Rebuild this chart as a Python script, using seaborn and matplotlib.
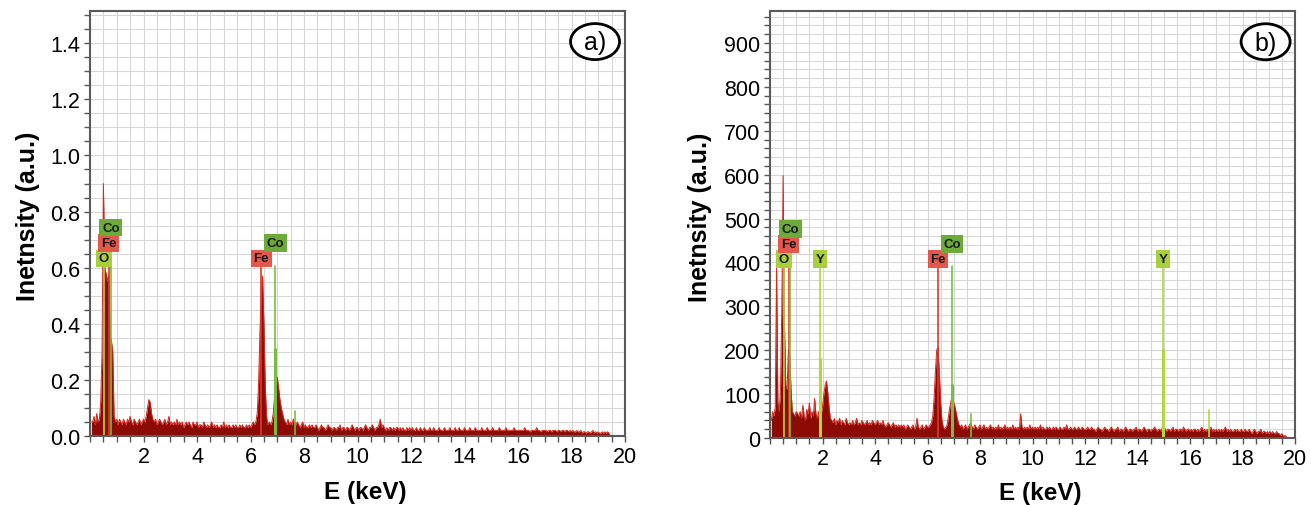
import numpy as np
import seaborn as sns
import matplotlib.pyplot as plt
from matplotlib.ticker import MultipleLocator, FixedLocator
from matplotlib.patches import Ellipse

# EDS spectrum (a), one value every 0.05 keV starting at 0.05 keV
counts_a = [
    0.05, 0.05, 0.07, 0.04, 0.08, 0.05, 0.06, 0.12, 0.30, 0.90, 0.60, 0.58, 0.55, 0.58, 0.36, 0.34, 0.30, 0.07, 0.05, 0.06, 0.04,
    0.06, 0.05, 0.04, 0.06, 0.05, 0.04, 0.06, 0.05, 0.07, 0.05, 0.04, 0.06, 0.05, 0.04, 0.05, 0.06, 0.04, 0.05, 0.06, 0.05, 0.07,
    0.10, 0.13, 0.12, 0.08, 0.06, 0.05, 0.06, 0.04, 0.05, 0.06, 0.05, 0.04, 0.05, 0.06, 0.04, 0.05, 0.07, 0.04, 0.05, 0.04,
    0.05, 0.04, 0.06, 0.04, 0.05, 0.04, 0.05, 0.03, 0.04, 0.05, 0.04, 0.05, 0.04, 0.03, 0.05, 0.04, 0.04, 0.05, 0.03, 0.04,
    0.04, 0.03, 0.05, 0.04, 0.03, 0.04, 0.03, 0.04, 0.05, 0.03, 0.04, 0.03, 0.04, 0.03, 0.03, 0.04, 0.03, 0.05, 0.03, 0.04,
    0.03, 0.04, 0.03, 0.03, 0.04, 0.03, 0.04, 0.03, 0.03, 0.04, 0.03, 0.04, 0.03, 0.03, 0.04, 0.03, 0.04, 0.03, 0.04, 0.05,
    0.04, 0.05, 0.08, 0.18, 0.36, 0.52, 0.57, 0.40, 0.18, 0.07, 0.04, 0.05, 0.04, 0.05, 0.08, 0.14, 0.20, 0.21, 0.17, 0.13,
    0.10, 0.08, 0.06, 0.05, 0.04, 0.06, 0.04, 0.05, 0.04, 0.06, 0.05, 0.04, 0.05, 0.04, 0.03, 0.04, 0.05, 0.03, 0.04, 0.03,
    0.03, 0.04, 0.03, 0.04, 0.03, 0.03, 0.04, 0.03, 0.02, 0.03, 0.04, 0.03, 0.03, 0.02, 0.03, 0.04, 0.03, 0.03, 0.02, 0.03,
    0.03, 0.02, 0.03, 0.03, 0.04, 0.02, 0.03, 0.03, 0.02, 0.03, 0.03, 0.02, 0.03, 0.04, 0.03, 0.02, 0.03, 0.03, 0.02, 0.03,
    0.03, 0.02, 0.03, 0.04, 0.03, 0.02, 0.03, 0.03, 0.04, 0.03, 0.02, 0.03, 0.03, 0.04, 0.06, 0.03, 0.04, 0.03, 0.02, 0.03,
    0.02, 0.03, 0.03, 0.02, 0.03, 0.02, 0.03, 0.03, 0.02, 0.03, 0.02, 0.03, 0.02, 0.02, 0.03, 0.02, 0.03, 0.02, 0.03, 0.02,
    0.02, 0.03, 0.02, 0.02, 0.03, 0.02, 0.02, 0.03, 0.02, 0.02, 0.02, 0.03, 0.02, 0.02, 0.03, 0.02, 0.02, 0.02, 0.03, 0.02,
    0.02, 0.02, 0.03, 0.02, 0.02, 0.02, 0.03, 0.02, 0.02, 0.02, 0.03, 0.02, 0.02, 0.03, 0.02, 0.02, 0.02, 0.03, 0.02, 0.02,
    0.02, 0.03, 0.02, 0.02, 0.02, 0.03, 0.02, 0.02, 0.02, 0.02, 0.03, 0.02, 0.02, 0.02, 0.03, 0.02, 0.02, 0.02, 0.03, 0.02,
    0.02, 0.02, 0.02, 0.03, 0.02, 0.02, 0.02, 0.02, 0.03, 0.02, 0.02, 0.02, 0.02, 0.02, 0.03, 0.02, 0.02, 0.02, 0.02, 0.02,
    0.02, 0.02, 0.03, 0.02, 0.02, 0.02, 0.015, 0.02, 0.02, 0.02, 0.02, 0.03, 0.02, 0.02, 0.015, 0.02, 0.02, 0.02, 0.02, 0.015,
    0.02, 0.02, 0.015, 0.02, 0.02, 0.02, 0.015, 0.02, 0.02, 0.015, 0.02, 0.02, 0.015, 0.02, 0.02, 0.015, 0.02, 0.015, 0.02, 0.015,
    0.015, 0.02, 0.015, 0.015, 0.02, 0.01, 0.015, 0.015, 0.01, 0.015, 0.015, 0.01, 0.015, 0.02, 0.01, 0.015, 0.01, 0.015, 0.01, 0.01,
    0.015, 0.01, 0.015, 0.01, 0.015, 0.01, 0.0,
]

# EDS spectrum (b), counts every 0.05 keV starting at 0.05 keV
counts_b = [
    40, 60, 50, 70, 390, 80, 60, 110, 300, 598, 260, 120, 110, 200, 190, 110, 60, 55, 50, 60,
    55, 50, 60, 45, 75, 50, 40, 65, 55, 80, 45, 60, 50, 90, 55, 45, 60, 40, 55, 70,
    100, 120, 130, 105, 70, 45, 40, 35, 45, 30, 40, 35, 45, 30, 40, 35, 30, 45, 35, 30,
    35, 30, 40, 30, 35, 45, 30, 35, 30, 40, 35, 30, 35, 40, 30, 35, 30, 40, 35, 30,
    35, 40, 30, 35, 30, 40, 30, 25, 30, 35, 30, 25, 30, 35, 25, 30, 25, 30, 25, 30,
    25, 30, 20, 25, 30, 25, 20, 25, 30, 20, 25, 45, 25, 20, 25, 30, 20, 25, 30, 25,
    25, 30, 35, 50, 90, 150, 200, 208, 150, 80, 40, 25, 20, 25, 30, 50, 70, 85, 100, 80,
    70, 55, 40, 30, 25, 30, 20, 25, 30, 20, 25, 30, 35, 25, 20, 30, 25, 20, 25, 30,
    20, 25, 30, 20, 25, 20, 25, 30, 20, 25, 20, 25, 20, 30, 20, 25, 20, 25, 30, 20,
    25, 20, 25, 20, 30, 20, 25, 20, 25, 20, 55, 25, 20, 25, 20, 25, 20, 30, 20, 25,
    20, 25, 20, 25, 20, 30, 20, 25, 20, 20, 25, 20, 25, 20, 20, 25, 20, 25, 20, 20,
    25, 20, 20, 25, 20, 30, 20, 20, 25, 20, 20, 25, 20, 20, 25, 20, 20, 25, 20, 20,
    20, 25, 20, 20, 25, 20, 20, 15, 20, 25, 20, 20, 15, 20, 25, 20, 20, 15, 20, 25,
    20, 15, 20, 20, 25, 15, 20, 20, 15, 20, 25, 20, 15, 20, 20, 15, 20, 20, 25, 15,
    20, 20, 15, 20, 25, 20, 15, 20, 20, 15, 20, 20, 25, 20, 15, 20, 20, 15, 25, 30,
    20, 15, 20, 20, 15, 20, 25, 15, 20, 20, 15, 20, 20, 15, 25, 20, 15, 20, 20, 15,
    20, 15, 20, 20, 15, 20, 15, 20, 25, 15, 20, 15, 20, 15, 20, 25, 15, 20, 15, 20,
    15, 20, 15, 20, 15, 20, 25, 15, 20, 15, 20, 15, 15, 20, 15, 20, 15, 15, 20, 15,
    15, 20, 15, 15, 20, 15, 10, 15, 20, 15, 10, 15, 15, 20, 10, 15, 15, 10, 15, 10,
    15, 10, 15, 10, 10, 15, 10, 10, 5, 10, 5, 5, 5, 0, 0, 0,
]

# element markers: label, energy (keV), stacking level of the tag
elements_a = ["O", "Fe", "Co", "Fe", "Co"]
energies_a = [0.525, 0.705, 0.776, 6.40, 6.93]
levels_a = [0, 1, 2, 0, 1]
elements_b = ["O", "Fe", "Co", "Y", "Fe", "Co", "Y"]
energies_b = [0.525, 0.705, 0.776, 1.92, 6.40, 6.93, 14.96]
levels_b = [0, 1, 2, 0, 0, 1, 0]

# short marker lines without tag (energy, height, element)
minor_a = [(7.65, 0.09, "Co")]
minor_b = [(7.65, 55, "Co"), (16.74, 63, "Y")]
# thicker lower part of some marker lines
thick_a = [(6.93, 0.31, "Co")]
thick_b = [(1.92, 180, "Y"), (6.93, 120, "Co"), (14.96, 200, "Y")]

box_colors = {"Co": "#6cab3a", "Fe": "#e3574c", "O": "#a8cf3c", "Y": "#a8cf3c"}
line_colors = {"Co": "#78bd40", "Fe": "#e0392a", "O": "#b3d63e", "Y": "#b3d63e"}

sns.set_theme(style="white")
plt.rcParams["font.family"] = ["Liberation Sans", "DejaVu Sans"]

fig = plt.figure(figsize=(13.11, 5.06), dpi=100)
ax_a = fig.add_axes([90 / 1311, 69 / 506, 535 / 1311, 425 / 506])
ax_b = fig.add_axes([770 / 1311, 67 / 506, 525 / 1311, 427 / 506])


def draw_panel(ax, counts, elements, energies, levels, minor, thick,
               line_top, box_h, ymax, ystep, yminor, tag, ylabel_x, xlabel_y):
    energy = 0.05 + 0.05 * np.arange(len(counts))
    df = {"E": energy, "I": np.array(counts, dtype=float)}
    ax.fill_between(df["E"], 0, df["I"], color="#8c0b04", lw=0, zorder=2)
    sns.lineplot(x=df["E"], y=df["I"], ax=ax, color="#d8261a", lw=0.7, zorder=3)

    for el, e, lv in zip(elements, energies, levels):
        ax.plot([e, e], [0, line_top], color=line_colors[el], lw=1.2, zorder=4)
        ax.text(e, line_top + box_h * (lv + 0.5), el, ha="center", va="center",
                fontsize=9.5, fontweight="bold", color="#1a1a1a", zorder=6,
                bbox=dict(boxstyle="square,pad=0.2", fc=box_colors[el], ec="none"))
    for e, h, el in minor:
        ax.plot([e, e], [0, h], color=line_colors[el], lw=1.2, zorder=4)
    for e, h, el in thick:
        ax.plot([e, e], [0, h], color=line_colors[el], lw=2.2, zorder=4)

    ax.set_xlim(0, 20)
    ax.set_ylim(0, ymax)
    ax.xaxis.set_major_locator(FixedLocator(np.arange(2, 21, 2)))
    ax.xaxis.set_minor_locator(MultipleLocator(0.5))
    ax.yaxis.set_major_locator(MultipleLocator(ystep))
    ax.yaxis.set_minor_locator(MultipleLocator(yminor))
    ax.grid(which="both", color="#d6d6d6", lw=0.8, zorder=0)
    ax.set_axisbelow(True)
    ax.tick_params(which="both", direction="out", length=4, width=1,
                   color="#555555", left=True, bottom=True, labelsize=15.5,
                   labelcolor="black", pad=3)
    for s in ax.spines.values():
        s.set_color("#5a5a5a")
        s.set_linewidth(1.5)
        s.set_zorder(7)

    ax.set_xlabel("E (keV)", fontsize=17.5, fontweight="bold", color="black")
    ax.set_ylabel("Inetnsity (a.u.)", fontsize=18, fontweight="bold", color="black")
    ax.xaxis.set_label_coords(0.514, xlabel_y)
    ax.yaxis.set_label_coords(ylabel_x, 0.52)

    bbox = ax.get_window_extent()
    w = 49 / bbox.width
    h = 36 / bbox.height
    ax.add_patch(Ellipse((0.944, 0.928), w, h, transform=ax.transAxes,
                         fc="white", ec="black", lw=2, zorder=8))
    ax.text(0.944, 0.926, tag, transform=ax.transAxes, ha="center", va="center",
            fontsize=18, color="black", zorder=9)


draw_panel(ax_a, counts_a, elements_a, energies_a, levels_a, minor_a, thick_a,
           line_top=0.607, box_h=0.054, ymax=1.515, ystep=0.2, yminor=0.05,
           tag="a)", ylabel_x=-0.093, xlabel_y=-0.104)
ax_a.yaxis.set_major_formatter(plt.FormatStrFormatter("%.1f"))
draw_panel(ax_b, counts_b, elements_b, energies_b, levels_b, minor_b, thick_b,
           line_top=391, box_h=34, ymax=973, ystep=100, yminor=20,
           tag="b)", ylabel_x=-0.110, xlabel_y=-0.100)

plt.savefig("out.png", dpi=100)
